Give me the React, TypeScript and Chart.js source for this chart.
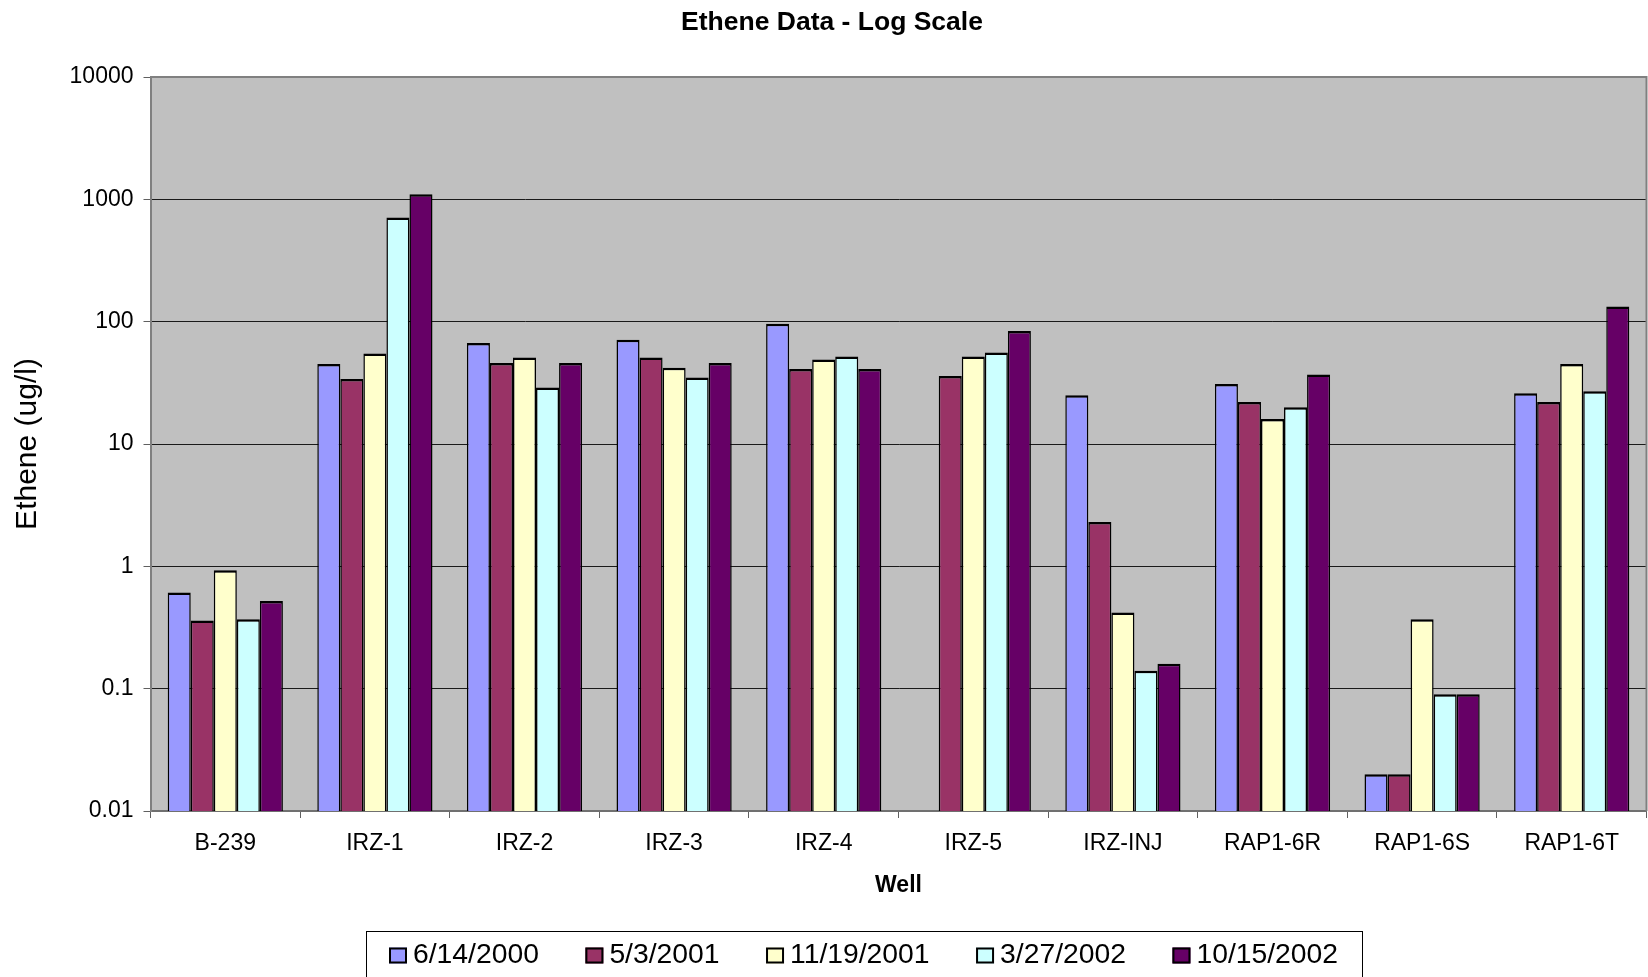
import React, { useEffect, useRef } from "react";
import { Chart, registerables } from "chart.js";

Chart.register(...registerables);

// ---- data ----
const wells = ["B-239", "IRZ-1", "IRZ-2", "IRZ-3", "IRZ-4", "IRZ-5", "IRZ-INJ", "RAP1-6R", "RAP1-6S", "RAP1-6T"];
const seriesLabels = ["6/14/2000", "5/3/2001", "11/19/2001", "3/27/2002", "10/15/2002"];
const jun2000 = [0.61, 45, 67, 71, 96, null, 25, 31, 0.02, 26];
const may2001 = [0.36, 34, 46, 51, 41, 36, 2.3, 22, 0.02, 22];
const nov2001 = [0.93, 55, 51, 42, 49, 52, 0.42, 16, 0.37, 45];
const mar2002 = [0.37, 710, 29, 35, 52, 56, 0.14, 20, 0.09, 27];
const oct2002 = [0.52, 1100, 46, 46, 41, 84, 0.16, 37, 0.09, 133];
const seriesValues = [jun2000, may2001, nov2001, mar2002, oct2002];
const seriesColors = ["#9999FF", "#993366", "#FFFFCC", "#CCFFFF", "#660066"];
const yTickValues = [0.01, 0.1, 1, 10, 100, 1000, 10000];

const FONT = '"Liberation Sans", Arial, sans-serif';

export default function App() {
  const ref = useRef<HTMLCanvasElement>(null);

  useEffect(() => {
    document.body.style.margin = "0";
    const canvas = ref.current;
    if (!canvas) return;

    const plotBg = {
      id: "plotBg",
      beforeDraw(chart: any) {
        const { ctx, chartArea: a } = chart;
        ctx.save();
        ctx.fillStyle = "#C0C0C0";
        ctx.fillRect(a.left, a.top, a.right - a.left, a.bottom - a.top);
        ctx.restore();
      },
    };

    const frame = {
      id: "frame",
      afterDraw(chart: any) {
        const { ctx, chartArea: a } = chart;
        ctx.save();
        ctx.strokeStyle = "#808080";
        ctx.lineWidth = 2;
        ctx.beginPath();
        ctx.moveTo(a.left, a.top);
        ctx.lineTo(a.right, a.top);
        ctx.lineTo(a.right, a.bottom);
        ctx.stroke();
        ctx.restore();
      },
    };

    const titlePlugin = {
      id: "mainTitle",
      afterDraw(chart: any) {
        const ctx = chart.ctx;
        ctx.save();
        ctx.font = `bold 26.5px ${FONT}`;
        ctx.fillStyle = "#000";
        ctx.textAlign = "center";
        ctx.textBaseline = "middle";
        ctx.fillText("Ethene Data - Log Scale", 832, 23);
        ctx.restore();
      },
    };

    const boxLegend = {
      id: "boxLegend",
      afterDraw(chart: any) {
        const ctx = chart.ctx;
        ctx.save();
        ctx.strokeStyle = "#000";
        ctx.lineWidth = 1;
        ctx.strokeRect(366.5, 931.5, 996, 80);
        ctx.font = `28.3px ${FONT}`;
        ctx.textAlign = "left";
        ctx.textBaseline = "middle";
        let x = 389;
        const cy = 955.5;
        chart.data.datasets.forEach((ds: any) => {
          ctx.fillStyle = ds.backgroundColor;
          ctx.fillRect(x, cy - 8, 18, 16);
          ctx.strokeStyle = "#000";
          ctx.lineWidth = 2;
          ctx.strokeRect(x + 1, cy - 8 + 1, 16, 14);
          ctx.fillStyle = "#000";
          ctx.fillText(ds.label, x + 24, cy);
          x += 24 + ctx.measureText(ds.label).width + 46.5;
        });
        ctx.restore();
      },
    };

    const chart = new Chart(canvas, {
      type: "bar",
      data: {
        labels: wells,
        datasets: seriesValues.map((d, i) => ({
          label: seriesLabels[i],
          data: d,
          backgroundColor: seriesColors[i],
          borderColor: "#000",
          borderWidth: { top: 2.5, left: 1.5, right: 1.5, bottom: 0 },
          categoryPercentage: 0.77,
          barPercentage: 1,
        })),
      },
      options: {
        animation: false,
        responsive: false,
        layout: { padding: { top: 77, right: 1.5, bottom: 78, left: 0 } },
        plugins: {
          legend: { display: false },
          title: { display: false },
          tooltip: { enabled: false },
        },
        scales: {
          x: {
            grid: {
              display: true,
              drawOnChartArea: false,
              drawTicks: true,
              tickLength: 7,
              tickColor: "#606060",
              offset: true,
            },
            border: { color: "#707070", width: 2 },
            ticks: {
              font: { family: FONT, size: 23 },
              color: "#000",
              padding: 12,
              maxRotation: 0,
              autoSkip: false,
            },
            title: {
              display: true,
              text: "Well",
              font: { family: FONT, size: 23, weight: "bold" },
              color: "#000",
              padding: { top: 0, bottom: 0 },
            },
            afterFit: (s: any) => {
              s.height = 88;
            },
          },
          y: {
            type: "logarithmic",
            min: 0.01,
            max: 10000,
            afterBuildTicks: (s: any) => {
              s.ticks = yTickValues.map((v) => ({ value: v }));
            },
            afterFit: (s: any) => {
              s.width = 150.5;
            },
            ticks: {
              callback: (v: any) => String(v),
              font: { family: FONT, size: 23 },
              color: "#000",
              padding: 10,
              autoSkip: false,
            },
            grid: {
              color: (c: any) =>
                c.tick && (c.tick.value === 10000 || c.tick.value === 0.01) ? "rgba(0,0,0,0)" : "#1a1a1a",
              tickColor: "#606060",
              tickLength: 7,
              lineWidth: 1,
            },
            border: { color: "#808080", width: 2 },
            title: {
              display: true,
              text: "Ethene (ug/l)",
              font: { family: FONT, size: 30 },
              color: "#000",
              padding: { top: 10, bottom: 0 },
            },
          },
        },
      },
      plugins: [plotBg, frame, titlePlugin, boxLegend],
    } as any);

    return () => chart.destroy();
  }, []);

  return <canvas ref={ref} width={1648} height={977} style={{ display: "block" }} />;
}
